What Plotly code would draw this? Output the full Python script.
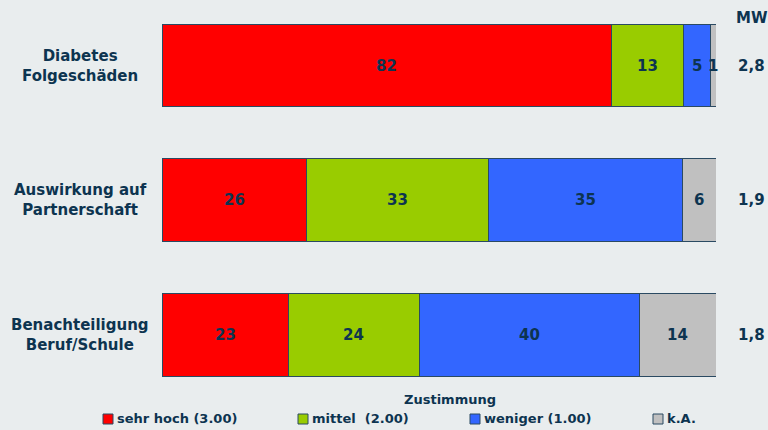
import plotly.graph_objects as go

categories = ["Diabetes<br>Folgeschäden", "Auswirkung auf<br>Partnerschaft", "Benachteiligung<br>Beruf/Schule"]
series_names = ["sehr hoch (3.00)", "mittel  (2.00)", "weniger (1.00)", "k.A."]
sehr_hoch = [82, 26, 23]
mittel = [13, 33, 24]
weniger = [5, 35, 40]
ka = [1, 6, 14]
mw = ["2,8", "1,9", "1,8"]
colors = ["#FF0000", "#99CC00", "#3366FF", "#C0C0C0"]

TXT = "#0D3450"
FONT = "DejaVu Sans"
all_series = [sehr_hoch, mittel, weniger, ka]
totals = [sum(s[i] for s in all_series) for i in range(len(categories))]

W, H = 768, 430
L, R, T, B = 162, 52, 10, 40
pw, ph = W - L - R, H - T - B
def px(xp):
    return (xp - L) / pw
def py(yp):
    return (H - B - yp) / ph

fig = go.Figure()
annotations = []
base = [0.0] * len(categories)
for name, vals, col in zip(series_names, all_series, colors):
    norm = [v / t * 100 for v, t in zip(vals, totals)]
    fig.add_trace(go.Bar(
        y=list(range(len(categories))), x=norm, orientation="h", name=name,
        marker=dict(color=col, line=dict(color="#2A4A62", width=1)),
        textposition="none", showlegend=False, hoverinfo="skip",
    ))
    for i, (v, n) in enumerate(zip(vals, norm)):
        annotations.append(dict(x=base[i] + n / 2, y=i, xref="x", yref="y", text=str(v),
                                showarrow=False, xanchor="center", yanchor="middle",
                                font=dict(family=FONT, size=15, color=TXT, weight="bold")))
        base[i] += n

for i, c in enumerate(categories):
    annotations.append(dict(x=px(80), y=i, xref="paper", yref="y", text=c, showarrow=False,
                            xanchor="center", yanchor="middle", align="center",
                            font=dict(family=FONT, size=15, color=TXT, weight="bold")))
    annotations.append(dict(x=px(751), y=i, xref="paper", yref="y", text=mw[i], showarrow=False,
                            xanchor="center", yanchor="middle",
                            font=dict(family=FONT, size=15, color=TXT, weight="bold")))
annotations.append(dict(x=px(752), y=py(18), xref="paper", yref="paper", text="MW", showarrow=False,
                        xanchor="center", yanchor="middle",
                        font=dict(family=FONT, size=15, color=TXT, weight="bold")))
annotations.append(dict(x=px(450), y=py(399), xref="paper", yref="paper", text="Zustimmung", showarrow=False,
                        xanchor="center", yanchor="middle",
                        font=dict(family=FONT, size=13, color=TXT, weight="bold")))

shapes = []
leg_sq = [103, 298, 470, 653]
leg_y = 419
for xs, name, col in zip(leg_sq, series_names, colors):
    shapes.append(dict(type="rect", xref="paper", yref="paper",
                       x0=px(xs), x1=px(xs + 10), y0=py(leg_y + 5), y1=py(leg_y - 5),
                       fillcolor=col, line=dict(color="#2A4A62", width=1)))
    annotations.append(dict(x=px(xs + 12), y=py(leg_y), xref="paper", yref="paper",
                            text=name.replace("  ", "&nbsp; "), showarrow=False, xanchor="left", yanchor="middle",
                            font=dict(family=FONT, size=13, color=TXT, weight="bold")))

fig.update_layout(
    barmode="stack", bargap=0.383,
    width=W, height=H, margin=dict(l=L, r=R, t=T, b=B),
    paper_bgcolor="#E9EDEE", plot_bgcolor="#E9EDEE",
    xaxis=dict(range=[0, 100], visible=False, fixedrange=True),
    yaxis=dict(range=[2.4126, -0.4126], visible=False, fixedrange=True),
    annotations=annotations, shapes=shapes, showlegend=False,
)
fig.write_html("out.html", config={"displayModeBar": False},
               post_script="document.body.style.margin='0';document.body.style.background='#E9EDEE';")
